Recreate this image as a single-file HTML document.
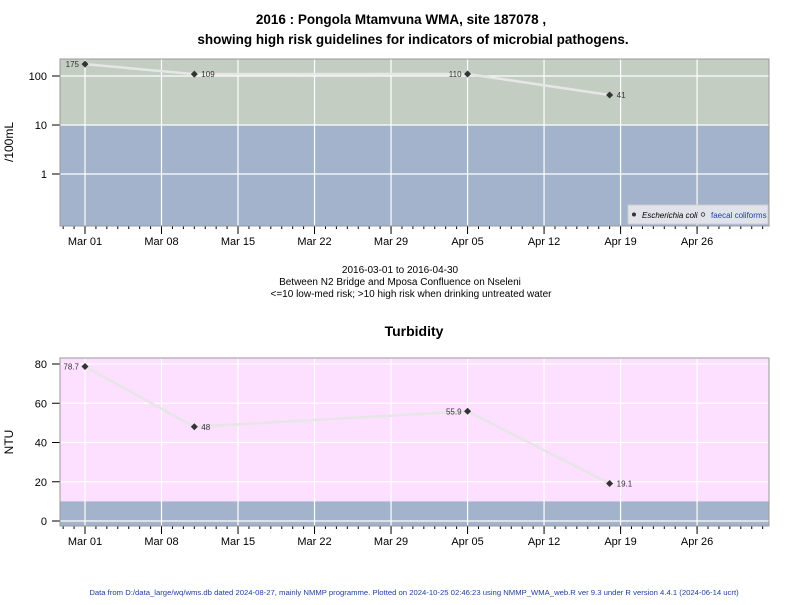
<!DOCTYPE html>
<html><head><meta charset="utf-8"><style>
body{margin:0;background:#fff;font-family:"Liberation Sans",sans-serif}
svg text{font-family:"Liberation Sans",sans-serif}
</style></head><body>
<svg id="s" width="800" height="600" xmlns="http://www.w3.org/2000/svg">
<text x="401" y="24" text-anchor="middle" font-size="13.5" font-weight="bold">2016 : Pongola Mtamvuna WMA, site 187078 ,</text>
<text x="413" y="44" text-anchor="middle" font-size="13.5" font-weight="bold">showing high risk guidelines for indicators of microbial pathogens.</text>
<text x="400" y="273" text-anchor="middle" font-size="10">2016-03-01 to 2016-04-30</text>
<text x="400" y="285" text-anchor="middle" font-size="10">Between N2 Bridge and Mposa Confluence on Nseleni</text>
<text x="411" y="297" text-anchor="middle" font-size="10">&lt;=10 low-med risk; &gt;10 high risk when drinking untreated water</text>
<text x="414" y="336" text-anchor="middle" font-size="14" font-weight="bold">Turbidity</text>
<text x="13" y="142" text-anchor="middle" font-size="12" transform="rotate(-90 13 142)">/100mL</text>
<text x="13" y="442" text-anchor="middle" font-size="12" transform="rotate(-90 13 442)">NTU</text>
<text x="414" y="595" text-anchor="middle" font-size="7.7" fill="#1f3fa0">Data from D:/data_large/wq/wms.db dated 2024-08-27, mainly NMMP programme. Plotted on 2024-10-25 02:46:23 using NMMP_WMA_web.R ver 9.3 under R version 4.4.1 (2024-06-14 ucrt)</text>
<g id="top"></g><g id="bot"></g>
<g>
<rect x="628" y="205" width="140" height="19" fill="#e0e4ea" stroke="#ccc"/>
<circle cx="634" cy="214.5" r="2" fill="#333"/>
<text x="642" y="218" font-size="8" font-style="italic">Escherichia coli</text>
<circle cx="703" cy="214.5" r="1.8" fill="none" stroke="#333" stroke-width="0.8"/>
<text x="711" y="218" font-size="8" fill="#1f3fa0">faecal coliforms</text>
</g>
</svg>
<script>
const ecoliDays=[0,10,35,48];
const ecoliVals=[175,109,110,41];
const ecoliLabels=["175","109","110","41"];
const turbDays=[0,10,35,48];
const turbVals=[78.7,48,55.9,19.1];
const turbLabels=["78.7","48","55.9","19.1"];
const dateTicks=["Mar 01","Mar 08","Mar 15","Mar 22","Mar 29","Apr 05","Apr 12","Apr 19","Apr 26"];
const logTicks=[1,10,100];
const ntuTicks=[0,20,40,60,80];
const NS="http://www.w3.org/2000/svg";
const L=60,R=769;
const xS=d=>85+d*10.93;
function mk(p,t,a){const e=document.createElementNS(NS,t);for(const k in a)e.setAttribute(k,a[k]);p.appendChild(e);return e;}
function panel(g,top,bot,yS,thr,ticks,days,vals,labs,labSide,pref){
  const thY=yS(thr);
  let r=mk(g,'rect',{x:L,y:top,width:R-L,height:thY-top,fill:pref==='top'?'#c3cdc2':'#fddfff'});
  
  r=mk(g,'rect',{x:L,y:thY,width:R-L,height:bot-thY,fill:'#a2b3cb'});
  
  ticks.forEach(t=>{const y=yS(t);
    mk(g,'line',{x1:L,x2:R,y1:y,y2:y,stroke:'#fff','stroke-width':1.2});
    mk(g,'line',{x1:L-8,x2:L,y1:y,y2:y,stroke:'#000'});
    const tx=mk(g,'text',{x:L-13,y:y+4,'text-anchor':'end','font-size':11});tx.textContent=t;
    });
  dateTicks.forEach((d,i)=>{const x=xS(i*7);
    mk(g,'line',{x1:x,x2:x,y1:top,y2:bot,stroke:'#fff','stroke-width':1.2});
    mk(g,'line',{x1:x,x2:x,y1:bot,y2:bot+8,stroke:'#000'});
    const tx=mk(g,'text',{x:x,y:bot+19,'text-anchor':'middle','font-size':11});tx.textContent=d;
    });
  for(let d=-2;d<=63;d++){const x=xS(d);if(x<L||x>R)continue;mk(g,'line',{x1:x,x2:x,y1:bot,y2:bot+3,stroke:'#000'});}
  mk(g,'rect',{x:L,y:top,width:R-L,height:bot-top,fill:'none',stroke:'#999'});
  const pts=days.map((d,i)=>xS(d)+','+yS(vals[i])).join(' ');
  const pl=mk(g,'polyline',{points:pts,fill:'none',stroke:'#e6e6e6','stroke-width':2.5});
  
  days.forEach((d,i)=>{const x=xS(d),y=yS(vals[i]);
    const p=mk(g,'path',{d:`M${x} ${y-3.5}L${x+3.5} ${y}L${x} ${y+3.5}L${x-3.5} ${y}Z`,fill:'#333'});
    
    const left=labSide[i]<0;
    const tx=mk(g,'text',{x:left?x-6:x+7,y:y+3,'text-anchor':left?'end':'start','font-size':8,fill:'#333'});tx.textContent=labs[i];
    });
}
panel(document.getElementById('top'),59,226,v=>76-(Math.log10(v)-2)*49,10,logTicks,ecoliDays,ecoliVals,ecoliLabels,[-1,1,-1,1],'top');
panel(document.getElementById('bot'),358,526,v=>521-v*1.9625,10,ntuTicks,turbDays,turbVals,turbLabels,[-1,1,-1,1],'bottom');
</script>
</body></html>
